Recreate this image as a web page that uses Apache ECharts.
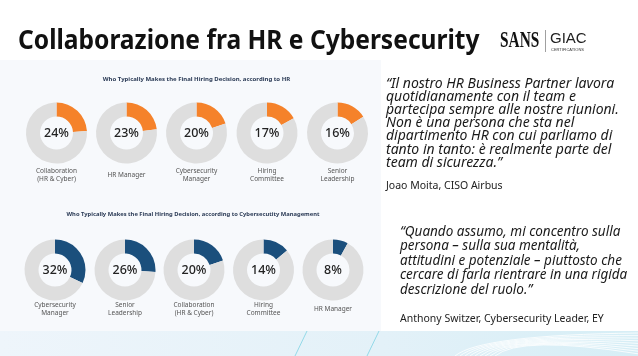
<!DOCTYPE html>
<html>
<head>
<meta charset="utf-8">
<script src="https://cdn.jsdelivr.net/npm/echarts@6/dist/echarts.min.js"></script>
<style>html,body{margin:0;padding:0;background:#fff}#c{width:638px;height:356px}</style>
</head>
<body>
<div id="c"></div>
<script>
const hrCategories = ['Collaboration\n(HR & Cyber)', 'HR Manager', 'Cybersecurity\nManager', 'Hiring\nCommittee', 'Senior\nLeadership'];
const hrValues = [24, 23, 20, 17, 16];
const cyberCategories = ['Cybersecurity\nManager', 'Senior\nLeadership', 'Collaboration\n(HR & Cyber)', 'Hiring\nCommittee', 'HR Manager'];
const cyberValues = [32, 26, 20, 14, 8];
const titleText = 'Collaborazione fra HR e Cybersecurity';
const hrSubtitle = 'Who Typically Makes the Final Hiring Decision, according to HR';
const cyberSubtitle = 'Who Typically Makes the Final Hiring Decision, according to Cybersecutity Management';
const quote1 = '\u201CIl nostro HR Business Partner lavora\nquotidianamente con il team e\npartecipa sempre alle nostre riunioni.\nNon \u00E8 una persona che sta nel\ndipartimento HR con cui parliamo di\ntanto in tanto: \u00E8 realmente parte del\nteam di sicurezza.\u201D';
const author1 = 'Joao Moita, CISO Airbus';
const quote2 = '\u201CQuando assumo, mi concentro sulla\npersona \u2013 sulla sua mentalit\u00E0,\nattitudini e potenziale \u2013 piuttosto che\ncercare di farla rientrare in una rigida\ndescrizione del ruolo.\u201D';
const author2 = 'Anthony Switzer, Cybersecurity Leader, EY';

const chart = echarts.init(document.getElementById('c'), null, {renderer: 'canvas'});
const ORANGE = '#F5822A', BLUE = '#1B4F7C', GREY = '#DEDEDE';
const topX = [56.5, 126.5, 196.5, 267, 337.5], topY = 133;
const botX = [55, 125, 194, 263.5, 333], botY = 270;
const R = [16.5, 30.5];
const FONT = '"Noto Sans", sans-serif';

function donut(cx, cy, v, color) {
  return {
    type: 'pie', center: [cx, cy], radius: R, silent: true, animation: false,
    startAngle: 90, clockwise: true,
    labelLine: {show: false},
    data: [
      {value: v, itemStyle: {color: color},
       label: {show: true, position: 'center', formatter: '{c}%', fontSize: 12.5, fontWeight: 500, color: '#222', fontFamily: FONT}},
      {value: 100 - v, itemStyle: {color: GREY}, label: {show: false}}
    ]
  };
}
const series = [];
hrValues.forEach((v, i) => series.push(donut(topX[i], topY, v, ORANGE)));
cyberValues.forEach((v, i) => series.push(donut(botX[i], botY, v, BLUE)));

const graphics = [
  {type: 'rect', shape: {x: 0, y: 60, width: 381, height: 271}, style: {fill: '#f7f9fc'}, z: -10},
  {type: 'rect', shape: {x: 0, y: 331, width: 638, height: 25},
   style: {fill: new echarts.graphic.LinearGradient(0, 0, 1, 0, [{offset: 0, color: '#eef5fb'}, {offset: 0.6, color: '#e3f1f8'}, {offset: 1, color: '#d6eef6'}])}, z: -10},
  {type: 'text', x: 18, y: 42, scaleX: 0.945, style: {text: titleText, font: 'bold 26px "Noto Sans", sans-serif', fill: '#111', textVerticalAlign: 'middle'}},
  {type: 'text', x: 500, y: 41, scaleX: 0.64, style: {text: 'SANS', font: 'bold 24px "Liberation Serif", serif', fill: '#111', textVerticalAlign: 'middle'}},
  {type: 'rect', shape: {x: 545, y: 30, width: 0.8, height: 22}, style: {fill: '#888'}},
  {type: 'text', x: 550, y: 39, style: {text: 'GIAC', font: '15px "Liberation Sans", sans-serif', fill: '#222', textVerticalAlign: 'middle'}},
  {type: 'text', x: 551, y: 50, style: {text: 'CERTIFICATIONS', font: '4px "Liberation Sans", sans-serif', fill: '#333', textVerticalAlign: 'middle'}},
  {type: 'text', x: 196.5, y: 79, style: {text: hrSubtitle, font: 'bold 6px "Noto Sans", sans-serif', fill: '#2a3a55', textAlign: 'center', textVerticalAlign: 'middle'}},
  {type: 'text', x: 193, y: 214, style: {text: cyberSubtitle, font: 'bold 5.8px "Noto Sans", sans-serif', fill: '#2a3a55', textAlign: 'center', textVerticalAlign: 'middle'}},
  {type: 'text', x: 386, y: 77, style: {text: quote1, font: 'italic 14px "Noto Sans", sans-serif', lineHeight: 13.2, fill: '#1a1a1a'}},
  {type: 'text', x: 386, y: 186, style: {text: author1, font: '10.5px "Noto Sans", sans-serif', fill: '#222', textVerticalAlign: 'middle'}},
  {type: 'text', x: 400, y: 224.5, style: {text: quote2, font: 'italic 13.5px "Noto Sans", sans-serif', lineHeight: 14.5, fill: '#1a1a1a'}},
  {type: 'text', x: 400, y: 319, style: {text: author2, font: '10.5px "Noto Sans", sans-serif', fill: '#222', textVerticalAlign: 'middle'}}
];
hrCategories.forEach((c, i) => graphics.push({type: 'text', x: topX[i], y: 175, style: {text: c, font: '6.5px "Noto Sans", sans-serif', lineHeight: 8, fill: '#555', textAlign: 'center', textVerticalAlign: 'middle'}}));
cyberCategories.forEach((c, i) => graphics.push({type: 'text', x: botX[i], y: 309.5, style: {text: c, font: '6.5px "Noto Sans", sans-serif', lineHeight: 8, fill: '#555', textAlign: 'center', textVerticalAlign: 'middle'}}));
// decorative strip lines
for (let k = 0; k < 9; k++) {
  graphics.push({type: 'bezierCurve', shape: {x1: 455 + k * 5, y1: 356, cpx1: 480 + k * 5, cpy1: 335, x2: 638, y2: 333 + k * 2.6}, style: {stroke: 'rgba(255,255,255,0.8)', lineWidth: 1, fill: null}, z: -5});
}
graphics.push({type: 'line', shape: {x1: 295, y1: 356, x2: 307, y2: 331}, style: {stroke: '#7fd3e3', lineWidth: 0.8}, z: -5});
graphics.push({type: 'line', shape: {x1: 367, y1: 356, x2: 379, y2: 331}, style: {stroke: '#7fd3e3', lineWidth: 0.8}, z: -5});

chart.setOption({animation: false, series: series, graphic: graphics});
</script>
</body>
</html>
